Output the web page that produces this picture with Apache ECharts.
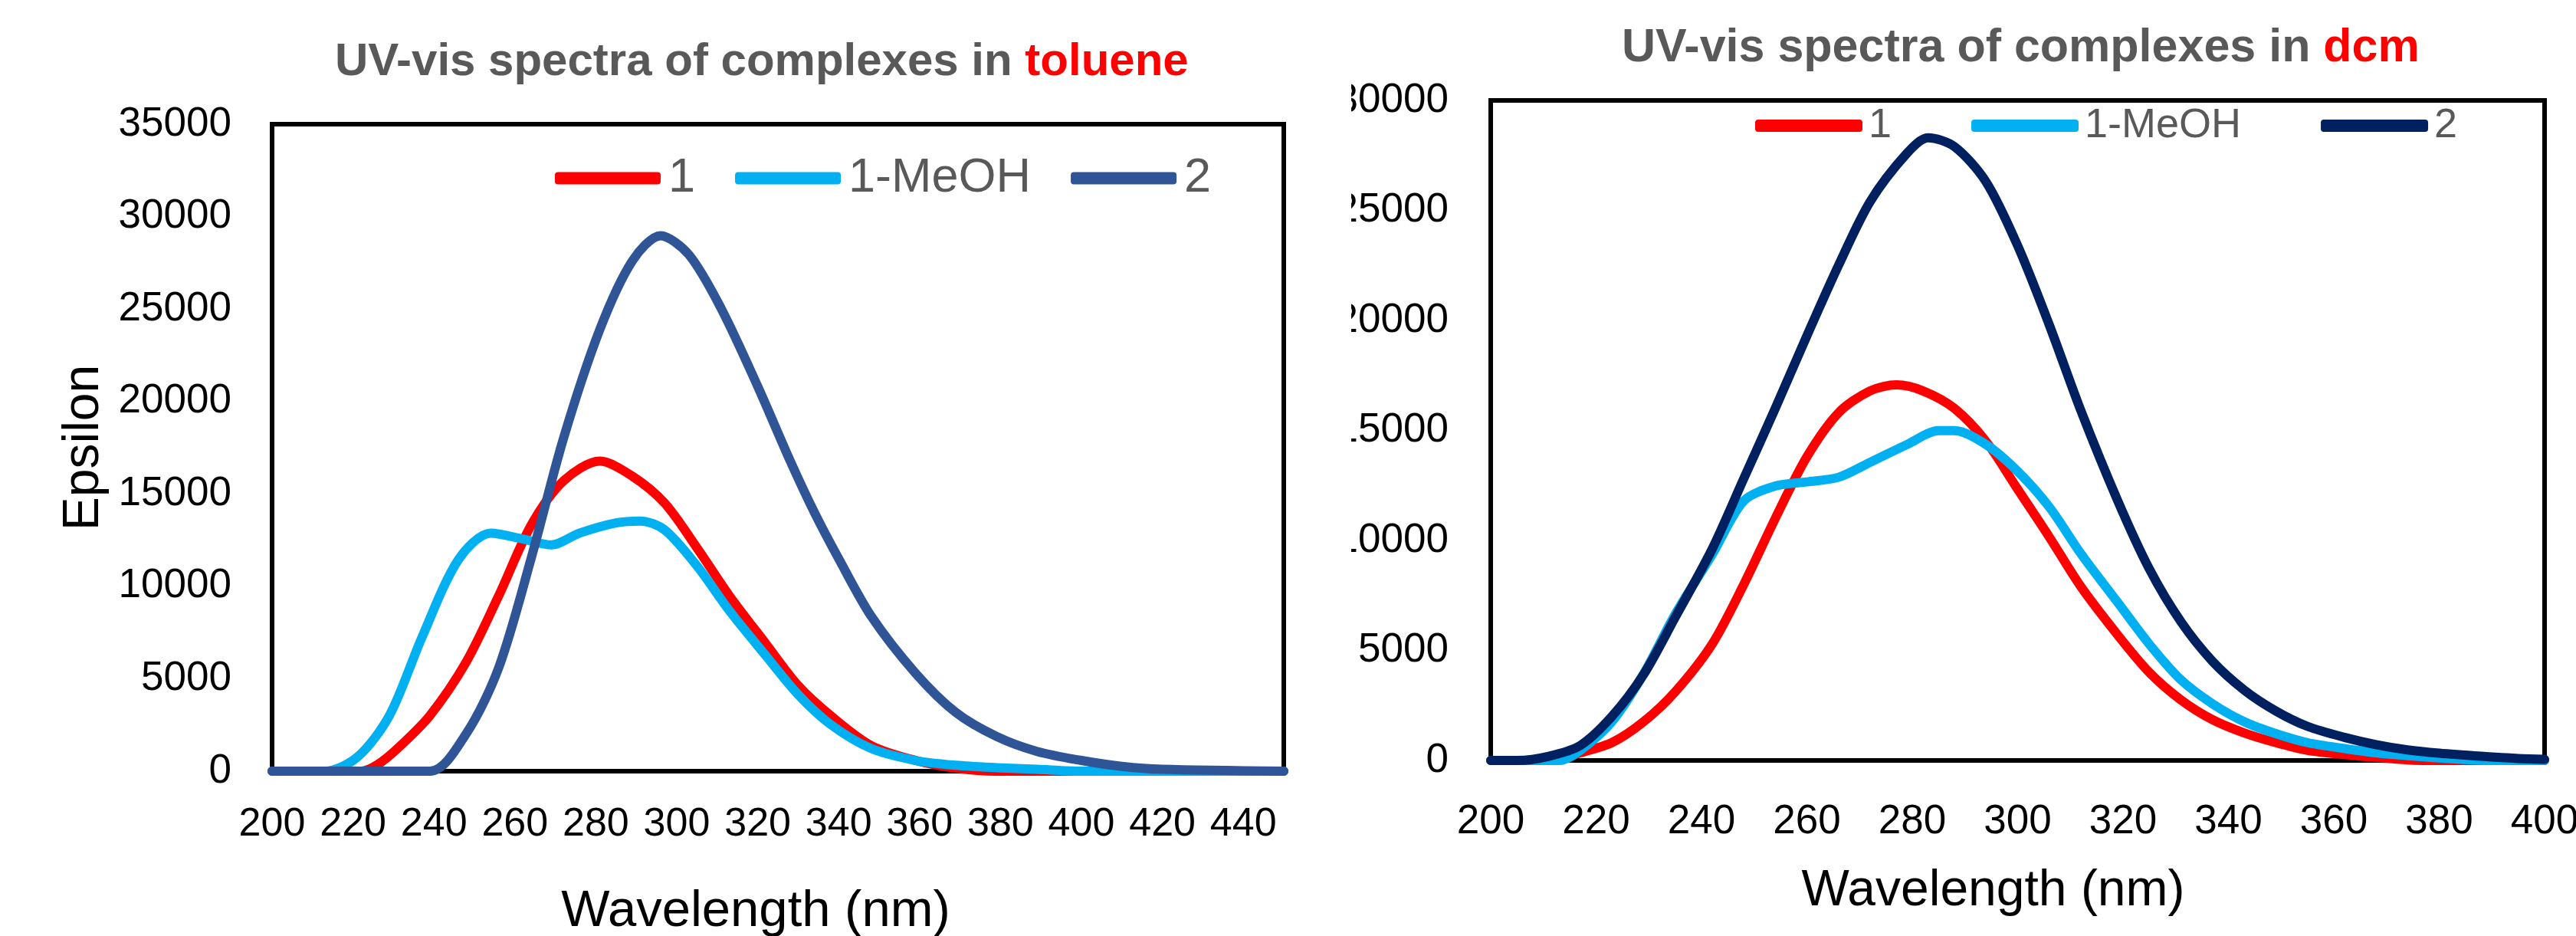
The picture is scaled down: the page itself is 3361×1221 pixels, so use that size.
<!DOCTYPE html>
<html>
<head>
<meta charset="utf-8">
<script src="https://cdn.jsdelivr.net/npm/echarts@6/dist/echarts.min.js"></script>
<style>
  html, body { margin: 0; padding: 0; background: #fff; }
  #toluene { position: absolute; left: 0; top: 0; width: 1763px; height: 1221px; }
  #dcm { position: absolute; left: 1763px; top: 0; width: 1598px; height: 1221px; }
</style>
</head>
<body>
<div id="toluene"></div>
<div id="dcm"></div>
<script>
// series names
const names = ['1', '1-MeOH', '2'];

// toluene, wavelength (nm) / epsilon
const tolWl1 = [200, 222, 226, 231, 239, 248, 256, 264, 272, 281, 289, 297, 305, 313, 322, 330, 338, 348, 359, 369, 379, 450];
const tolEps1 = [0, 0, 350, 1230, 3010, 5920, 9490, 13300, 15700, 16770, 15960, 14500, 12080, 9490, 6900, 4630, 3010, 1390, 580, 160, 0, 0];
const tolWlM = [200, 213, 221, 229, 237, 246, 254, 262, 269, 276, 285, 291, 297, 305, 313, 322, 330, 338, 348, 359, 369, 379, 389, 400, 450];
const tolEpsM = [0, 0, 750, 3010, 7220, 11430, 12880, 12560, 12240, 12880, 13430, 13530, 13050, 11100, 8680, 6250, 4140, 2530, 1230, 580, 320, 190, 100, 0, 0];
const tolWl2 = [200, 239, 248, 256, 264, 272, 281, 289, 296, 303, 311, 320, 328, 334, 340, 348, 359, 369, 379, 389, 400, 410, 420, 450];
const tolEps2 = [0, 0, 2040, 5600, 11500, 18000, 23900, 27600, 28970, 27940, 25020, 20820, 16800, 14000, 11500, 8400, 5300, 3170, 1880, 1070, 580, 260, 100, 0];

// dcm, wavelength (nm) / epsilon
const dcmWl1 = [200, 212, 217, 223, 229, 235, 242, 248, 254, 260, 266, 272, 277, 282, 288, 294, 300, 306, 312, 319, 325, 331, 337, 343, 349, 355, 362, 368, 374, 380, 400];
const dcmEps1 = [0, 0, 350, 810, 1760, 3120, 5280, 7990, 11000, 13800, 15800, 16800, 17070, 16800, 16000, 14500, 12330, 10160, 7900, 5700, 4000, 2750, 1850, 1250, 810, 460, 270, 140, 30, 0, 0];
const dcmWlM = [200, 213, 217, 223, 229, 235, 242, 248, 254, 260, 266, 272, 279, 285, 288, 294, 300, 306, 312, 319, 325, 331, 337, 343, 349, 355, 362, 368, 374, 380, 386, 390, 400];
const dcmEpsM = [0, 0, 460, 1760, 3930, 6640, 9350, 11790, 12470, 12660, 12870, 13550, 14360, 14990, 14990, 14360, 13140, 11520, 9400, 7180, 5280, 3660, 2570, 1760, 1220, 810, 540, 350, 220, 110, 30, 0, 0];
const dcmWl2 = [200, 205, 211, 217, 223, 229, 235, 242, 248, 254, 260, 266, 272, 279, 283, 288, 294, 300, 306, 312, 319, 325, 331, 337, 343, 349, 355, 362, 368, 374, 380, 388, 395, 400];
const dcmEps2 = [0, 0, 190, 680, 2000, 3900, 6500, 9600, 12800, 16000, 19300, 22500, 25400, 27600, 28300, 27900, 26300, 23400, 19800, 15900, 11800, 8700, 6300, 4500, 3200, 2250, 1550, 1050, 720, 480, 330, 190, 90, 50];

const font = 'Liberation Sans';

function zip(xs, ys) {
  let out = [];
  for (let i = 0; i < xs.length; i++) out.push([xs[i], ys[i]]);
  return out;
}

function lineSeries(name, data, color) {
  return {
    name: name,
    type: 'line',
    data: data,
    smooth: 0.3,
    symbol: 'none',
    lineStyle: { color: color, width: 12, cap: 'round', join: 'round' },
    itemStyle: { color: color }
  };
}

function plain(v) { return String(v); }

// toluene chart
let tolChart = echarts.init(document.getElementById('toluene'));
tolChart.setOption({
  animation: false,
  title: {
    text: '{a|UV-vis spectra of complexes in }{b|toluene}',
    left: 432,
    top: 46,
    textStyle: {
      rich: {
        a: { fontFamily: font, fontSize: 60, fontWeight: 'bold', color: '#595959' },
        b: { fontFamily: font, fontSize: 60, fontWeight: 'bold', color: '#ff0000' }
      }
    }
  },
  legend: {
    data: names,
    left: 719,
    top: 196,
    icon: 'roundRect',
    itemWidth: 138,
    itemHeight: 16,
    itemGap: 52,
    textStyle: { fontFamily: font, fontSize: 63, color: '#595959', padding: [0, 0, 0, 5] }
  },
  grid: {
    left: 355, top: 162, width: 1320, height: 844,
    outerBoundsMode: 'none',
    show: true, borderColor: '#000', borderWidth: 6
  },
  xAxis: {
    type: 'value',
    min: 200, max: 450, interval: 20,
    name: 'Wavelength (nm)',
    nameLocation: 'middle',
    nameGap: 150,
    nameTextStyle: { fontFamily: font, fontSize: 67, color: '#000', padding: [0, 58, 0, 0] },
    axisLine: { show: false },
    axisTick: { show: false },
    splitLine: { show: false },
    axisLabel: {
      fontFamily: font, fontSize: 52, color: '#000', margin: 44,
      formatter: function (v) { return v > 440 ? '' : String(v); }
    }
  },
  yAxis: {
    type: 'value',
    min: 0, max: 35000, interval: 5000,
    name: 'Epsilon',
    nameLocation: 'middle',
    nameGap: 212,
    nameTextStyle: { fontFamily: font, fontSize: 66, color: '#000' },
    axisLine: { show: false },
    axisTick: { show: false },
    splitLine: { show: false },
    axisLabel: { fontFamily: font, fontSize: 53, color: '#000', margin: 53, formatter: plain }
  },
  series: [
    lineSeries(names[0], zip(tolWl1, tolEps1), '#ff0000'),
    lineSeries(names[1], zip(tolWlM, tolEpsM), '#00b0f0'),
    lineSeries(names[2], zip(tolWl2, tolEps2), '#2f5597')
  ]
});

// dcm chart, its tick labels run past the left edge of its box and get cut
let dcmChart = echarts.init(document.getElementById('dcm'));
dcmChart.setOption({
  animation: false,
  title: {
    text: '{a|UV-vis spectra of complexes in }{b|dcm}',
    left: 348,
    top: 28,
    textStyle: {
      rich: {
        a: { fontFamily: font, fontSize: 61, fontWeight: 'bold', color: '#595959' },
        b: { fontFamily: font, fontSize: 61, fontWeight: 'bold', color: '#ff0000' }
      }
    }
  },
  legend: {
    data: names,
    left: 522,
    top: 132,
    icon: 'roundRect',
    itemWidth: 140,
    itemHeight: 16,
    itemGap: 104,
    textStyle: { fontFamily: font, fontSize: 54, color: '#595959', padding: [0, 0, 0, 3] }
  },
  grid: {
    left: 182, top: 131, width: 1375, height: 861,
    outerBoundsMode: 'none',
    show: true, borderColor: '#000', borderWidth: 6
  },
  xAxis: {
    type: 'value',
    min: 200, max: 400, interval: 20,
    name: 'Wavelength (nm)',
    nameLocation: 'middle',
    nameGap: 138,
    nameTextStyle: { fontFamily: font, fontSize: 66, color: '#000', padding: [0, 64, 0, 0] },
    axisLine: { show: false },
    axisTick: { show: false },
    splitLine: { show: false },
    axisLabel: { fontFamily: font, fontSize: 53, color: '#000', margin: 54, formatter: plain }
  },
  yAxis: {
    type: 'value',
    min: 0, max: 30000, interval: 5000,
    axisLine: { show: false },
    axisTick: { show: false },
    splitLine: { show: false },
    axisLabel: { fontFamily: font, fontSize: 53, color: '#000', margin: 55, formatter: plain }
  },
  series: [
    lineSeries(names[0], zip(dcmWl1, dcmEps1), '#ff0000'),
    lineSeries(names[1], zip(dcmWlM, dcmEpsM), '#00b0f0'),
    lineSeries(names[2], zip(dcmWl2, dcmEps2), '#002060')
  ]
});
</script>
</body>
</html>
